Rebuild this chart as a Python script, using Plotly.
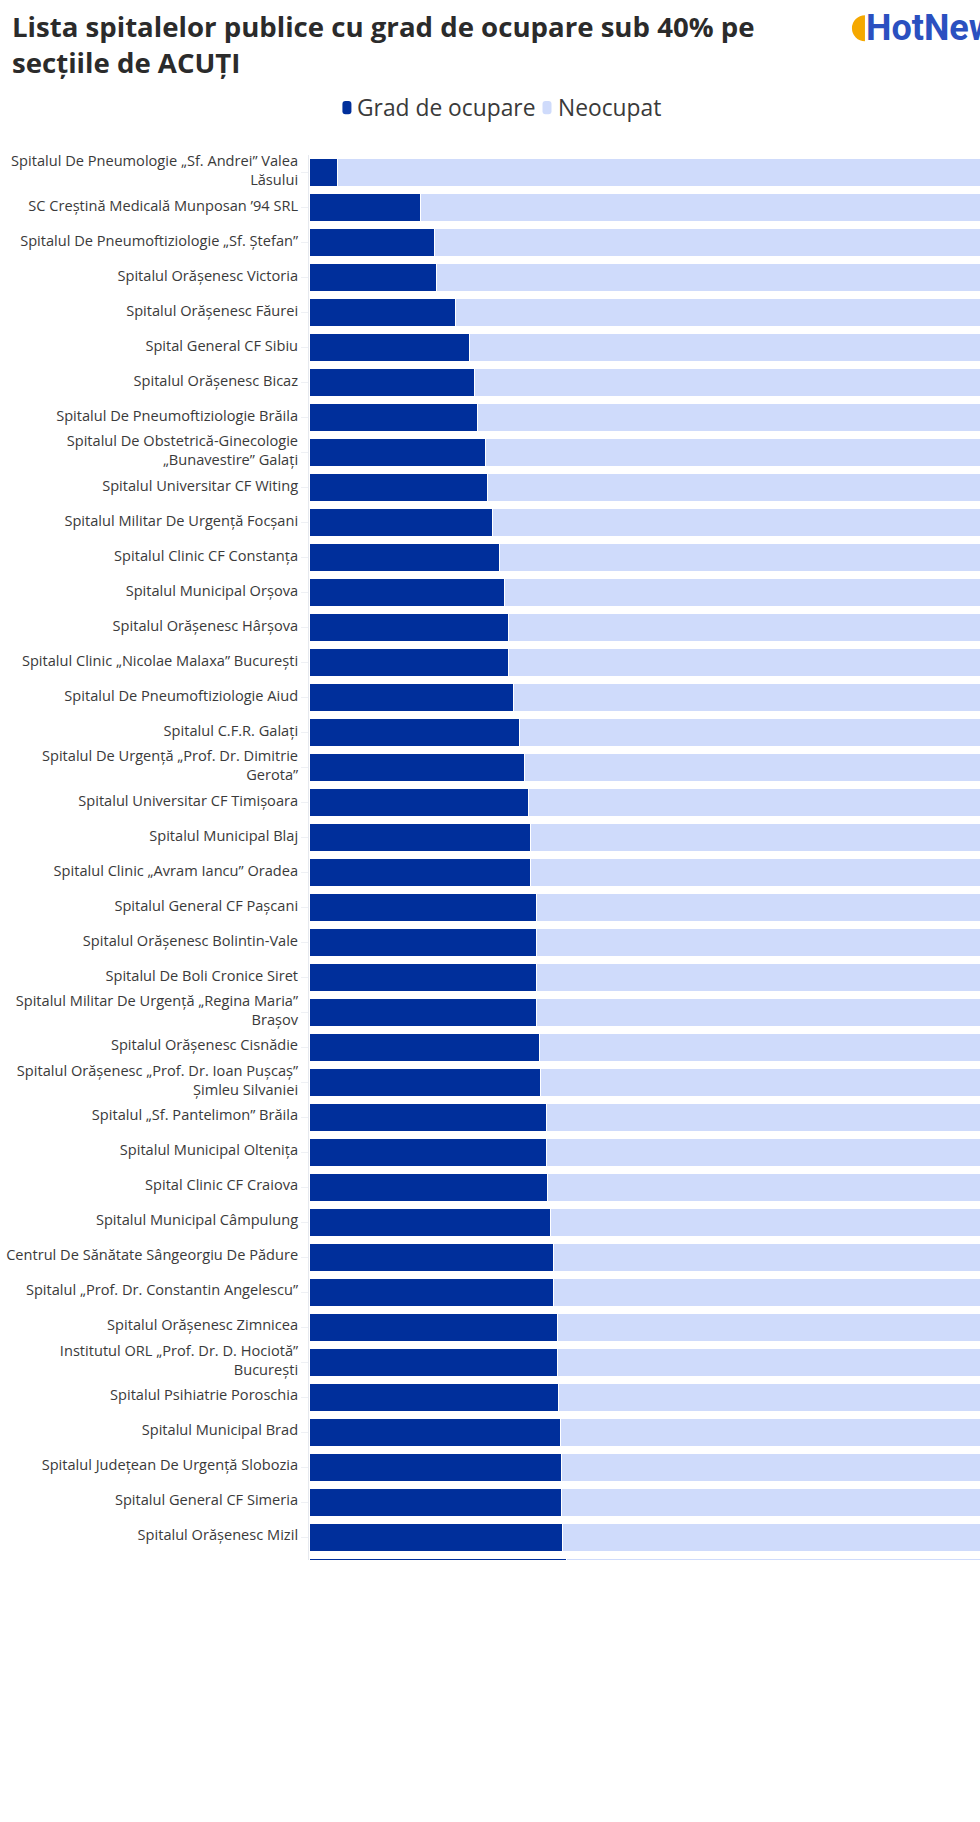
import plotly.graph_objects as go

# ---------------- data ----------------
hospitals = [
    "Spitalul De Pneumologie „Sf. Andrei” Valea Lăsului",
    "SC Creștină Medicală Munposan ’94 SRL",
    "Spitalul De Pneumoftiziologie „Sf. Ștefan”",
    "Spitalul Orășenesc Victoria",
    "Spitalul Orășenesc Făurei",
    "Spital General CF Sibiu",
    "Spitalul Orășenesc Bicaz",
    "Spitalul De Pneumoftiziologie Brăila",
    "Spitalul De Obstetrică-Ginecologie „Bunavestire” Galați",
    "Spitalul Universitar CF Witing",
    "Spitalul Militar De Urgență Focșani",
    "Spitalul Clinic CF Constanța",
    "Spitalul Municipal Orșova",
    "Spitalul Orășenesc Hârșova",
    "Spitalul Clinic „Nicolae Malaxa” București",
    "Spitalul De Pneumoftiziologie Aiud",
    "Spitalul C.F.R. Galați",
    "Spitalul De Urgență „Prof. Dr. Dimitrie Gerota”",
    "Spitalul Universitar CF Timișoara",
    "Spitalul Municipal Blaj",
    "Spitalul Clinic „Avram Iancu” Oradea",
    "Spitalul General CF Pașcani",
    "Spitalul Orășenesc Bolintin-Vale",
    "Spitalul De Boli Cronice Siret",
    "Spitalul Militar De Urgență „Regina Maria” Brașov",
    "Spitalul Orășenesc Cisnădie",
    "Spitalul Orășenesc „Prof. Dr. Ioan Pușcaș” Șimleu Silvaniei",
    "Spitalul „Sf. Pantelimon” Brăila",
    "Spitalul Municipal Oltenița",
    "Spital Clinic CF Craiova",
    "Spitalul Municipal Câmpulung",
    "Centrul De Sănătate Sângeorgiu De Pădure",
    "Spitalul „Prof. Dr. Constantin Angelescu”",
    "Spitalul Orășenesc Zimnicea",
    "Institutul ORL „Prof. Dr. D. Hociotă” București",
    "Spitalul Psihiatrie Poroschia",
    "Spitalul Municipal Brad",
    "Spitalul Județean De Urgență Slobozia",
    "Spitalul General CF Simeria",
    "Spitalul Orășenesc Mizil",
    "…",  # next hospital, cut off at the bottom of the reference
]

# occupancy (%)
grad_ocupare = [
    4.14, 16.27, 18.20, 18.55, 21.36, 23.30, 24.09, 24.57, 25.73, 26.02,
    26.65, 27.67, 28.46, 28.98, 29.08, 29.77, 30.58, 31.41, 31.95, 32.18,
    32.28, 33.06, 33.06, 33.12, 33.16, 33.49, 33.64, 34.57, 34.57, 34.72,
    35.15, 35.63, 35.63, 36.22, 36.22, 36.29, 36.55, 36.70, 36.80, 36.94,
    37.53,
]
neocupat = [round(100 - v, 2) for v in grad_ocupare]

# tick labels wrapped the way the reference wraps them
wrapped = {
    "Spitalul De Pneumologie „Sf. Andrei” Valea Lăsului":
        "Spitalul De Pneumologie „Sf. Andrei” Valea<br>Lăsului",
    "Spitalul De Obstetrică-Ginecologie „Bunavestire” Galați":
        "Spitalul De Obstetrică-Ginecologie<br>„Bunavestire” Galați",
    "Spitalul De Urgență „Prof. Dr. Dimitrie Gerota”":
        "Spitalul De Urgență „Prof. Dr. Dimitrie<br>Gerota”",
    "Spitalul Militar De Urgență „Regina Maria” Brașov":
        "Spitalul Militar De Urgență „Regina Maria”<br>Brașov",
    "Spitalul Orășenesc „Prof. Dr. Ioan Pușcaș” Șimleu Silvaniei":
        "Spitalul Orășenesc „Prof. Dr. Ioan Pușcaș”<br>Șimleu Silvaniei",
    "Institutul ORL „Prof. Dr. D. Hociotă” București":
        "Institutul ORL „Prof. Dr. D. Hociotă”<br>București",
}
tick_labels = [wrapped.get(h, h) for h in hospitals]

series_names = ["Grad de ocupare", "Neocupat"]
title_text = "Lista spitalelor publice cu grad de ocupare sub 40% pe<br>secțiile de ACUȚI"
logo_text = "HotNews"

# ---------------- style ----------------
DARK = "#002f9b"
LIGHT = "#cfdbfb"
TEXT = "#3a3a3a"
FONT = "'Open Sans', 'Noto Sans', Arial, sans-serif"
LOGO_FONT = "Roboto, Arial, sans-serif"

W, H = 980, 1822
ML, MR, MT, MB = 309.3, 0, 154.8, 262
PW, PH = W - ML - MR, H - MT - MB


def xp(px):
    return (px - ML) / PW


def yp(py):
    return 1 - (py - MT) / PH


fig = go.Figure()
fig.add_trace(go.Bar(
    y=hospitals, x=grad_ocupare, orientation="h", name=series_names[0],
    marker=dict(color=DARK, line=dict(color="white", width=1)),
))
fig.add_trace(go.Bar(
    y=hospitals, x=neocupat, orientation="h", name=series_names[1],
    marker=dict(color=LIGHT, line=dict(color="white", width=1)),
))

n_visible = (H - MB - MT) / 35.0

fig.update_layout(
    width=W, height=H,
    margin=dict(l=ML, r=MR, t=MT, b=MB, pad=0),
    barmode="stack", bargap=0.2,
    paper_bgcolor="white", plot_bgcolor="white",
    showlegend=False,
    font=dict(family=FONT, color=TEXT),
    xaxis=dict(range=[0, 97.67], showgrid=False, zeroline=False,
               showticklabels=False, fixedrange=True),
    yaxis=dict(type="category", range=[n_visible - 0.5, -0.5],
               tickvals=hospitals, ticktext=tick_labels,
               ticks="outside", ticklen=7, tickcolor="#eef0f4",
               ticklabelshift=2,
               showline=True, linecolor="#e6e9ef", linewidth=1,
               showgrid=False, tickfont=dict(size=14.6, color=TEXT),
               fixedrange=True),
)

# title
fig.add_annotation(
    xref="paper", yref="paper", x=xp(10), y=yp(5), xanchor="left", yanchor="top",
    text="<b>" + title_text + "</b>", showarrow=False, align="left",
    font=dict(size=27.6, color="#2b2b2b", family=FONT),
)

# custom legend
def rrect(x0, y0, x1, y1, r):
    return (f"M {xp(x0 + r)},{yp(y0)} L {xp(x1 - r)},{yp(y0)} Q {xp(x1)},{yp(y0)} {xp(x1)},{yp(y0 + r)} "
            f"L {xp(x1)},{yp(y1 - r)} Q {xp(x1)},{yp(y1)} {xp(x1 - r)},{yp(y1)} "
            f"L {xp(x0 + r)},{yp(y1)} Q {xp(x0)},{yp(y1)} {xp(x0)},{yp(y1 - r)} "
            f"L {xp(x0)},{yp(y0 + r)} Q {xp(x0)},{yp(y0)} {xp(x0 + r)},{yp(y0)} Z")

legend_items = [(342.7, DARK, series_names[0]), (542.7, LIGHT, series_names[1])]
for lx, col, name in legend_items:
    fig.add_shape(type="path", xref="paper", yref="paper",
                  path=rrect(lx, 100.7, lx + 9, 114, 3),
                  fillcolor=col, line=dict(width=0))
    fig.add_annotation(xref="paper", yref="paper", x=xp(lx + 13), y=yp(107.5),
                       xanchor="left", yanchor="middle", text=name, showarrow=False,
                       font=dict(size=22.8, color=TEXT, family=FONT))

# logo (cut at the right edge, as in the reference)
fig.add_shape(type="circle", xref="paper", yref="paper",
              x0=xp(852), x1=xp(878), y0=yp(41), y1=yp(15),
              fillcolor="#f5a800", line=dict(width=0))
fig.add_shape(type="rect", xref="paper", yref="paper",
              x0=xp(865), x1=xp(880), y0=yp(42), y1=yp(14),
              fillcolor="white", line=dict(width=0))
fig.add_annotation(xref="paper", yref="paper", x=xp(864), y=yp(28),
                   xanchor="left", yanchor="middle", text="<b>" + logo_text + "</b>",
                   showarrow=False, font=dict(size=36, color="#2b50c0", family=LOGO_FONT))

fig.write_html("out.html", config={"displayModeBar": False})
